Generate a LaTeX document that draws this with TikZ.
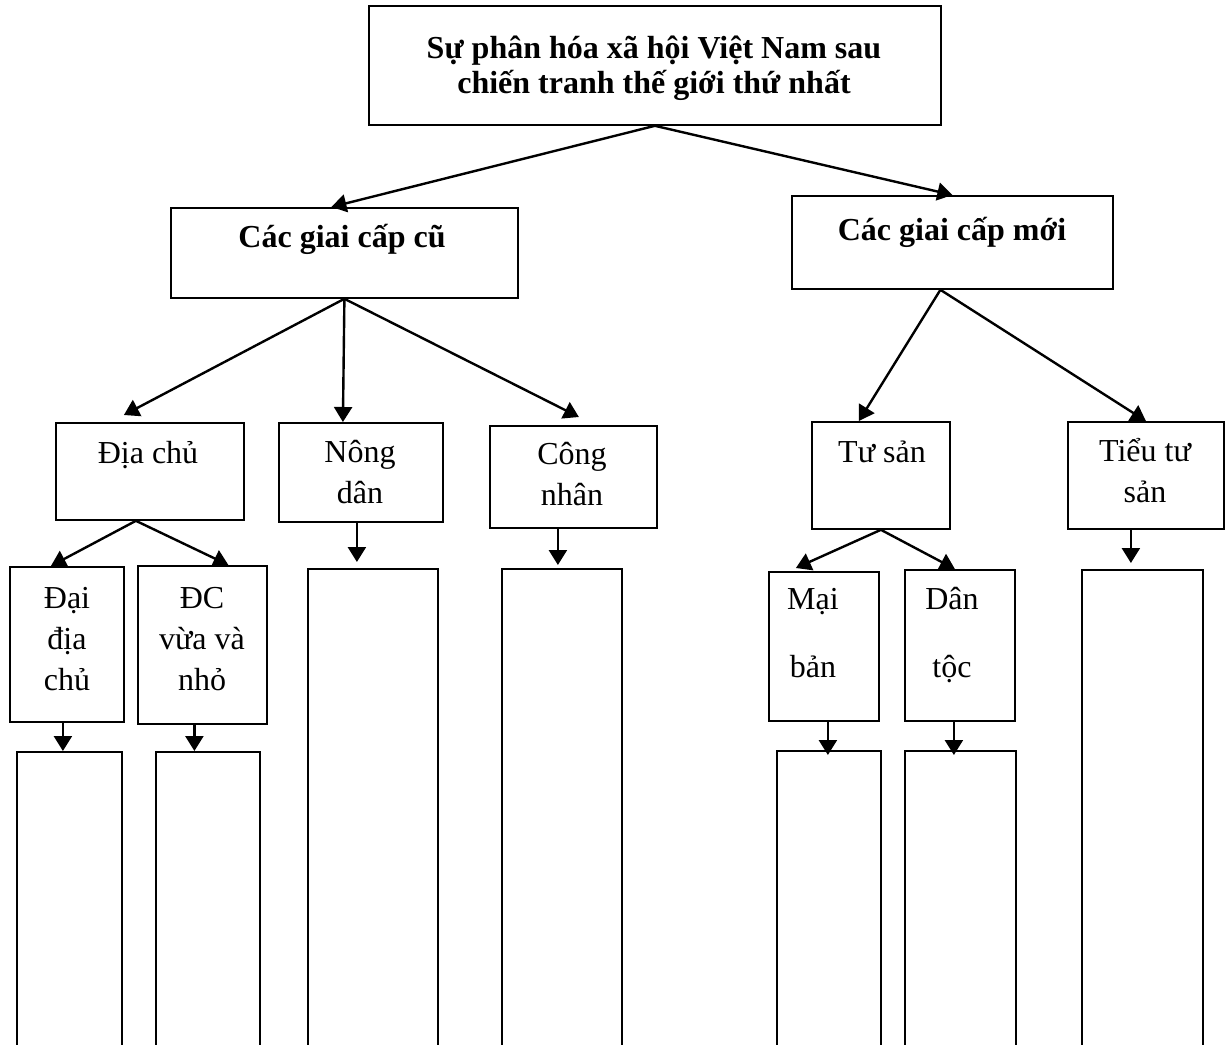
\documentclass[tikz,border=0pt]{standalone}
\usepackage{fontspec}
\setmainfont{Liberation Serif}
\usetikzlibrary{positioning, arrows.meta}

\begin{document}
\begin{tikzpicture}[x=0.5pt, y=-0.5pt, line width=1.2pt, >={Triangle[length=7.5pt, width=9pt]}]
    % Define block styles
    \tikzstyle{box} = [rectangle, draw, line width=0.9pt, inner sep=0pt, anchor=north west]
    \tikzstyle{lbl} = [anchor=base, align=center, inner sep=0pt, font=\fontsize{16}{20.5}\selectfont]
    \tikzstyle{head} = [lbl, font=\fontsize{16}{17.5}\selectfont\bfseries]

    \useasboundingbox (0,0) rectangle (1226,1044);

    % Place boxes
    \node [box, minimum width=286pt, minimum height=59.5pt] (root) at (368,5) {};
    \node [box, minimum width=173.5pt, minimum height=45pt] (cu) at (170,207) {};
    \node [box, minimum width=160.5pt, minimum height=46.5pt] (moi) at (791,195) {};
    \node [box, minimum width=94pt, minimum height=48.5pt] (diachu) at (55,422) {};
    \node [box, minimum width=82pt, minimum height=49.5pt] (nongdan) at (278,422) {};
    \node [box, minimum width=83.5pt, minimum height=51pt] (congnhan) at (489,425) {};
    \node [box, minimum width=69pt, minimum height=53.5pt] (tusan) at (811,421) {};
    \node [box, minimum width=78pt, minimum height=53.5pt] (tieutusan) at (1067,421) {};
    \node [box, minimum width=57pt, minimum height=77.5pt] (daidiachu) at (9,566) {};
    \node [box, minimum width=64.5pt, minimum height=79pt] (dcvuanho) at (137,565) {};
    \node [box, minimum width=55pt, minimum height=74.5pt] (maiban) at (768,571) {};
    \node [box, minimum width=55pt, minimum height=75.5pt] (dantoc) at (904,569) {};

    % Empty boxes running off the page
    \node [box, minimum width=52.5pt, minimum height=154.5pt] (daidiachu-e) at (16,751) {};
    \node [box, minimum width=52pt, minimum height=154.5pt] (dcvuanho-e) at (155,751) {};
    \node [box, minimum width=65pt, minimum height=246pt] (nongdan-e) at (307,568) {};
    \node [box, minimum width=60pt, minimum height=246pt] (congnhan-e) at (501,568) {};
    \node [box, minimum width=52pt, minimum height=155pt] (maiban-e) at (776,750) {};
    \node [box, minimum width=55.5pt, minimum height=155pt] (dantoc-e) at (904,750) {};
    \node [box, minimum width=60.5pt, minimum height=245.5pt] (tieutusan-e) at (1081,569) {};

    % Texts (anchored on the baseline of the last line)
    \node [head] (root-t) at (654,93) {Sự phân hóa xã hội Việt Nam sau\\chiến tranh thế giới thứ nhất};
    \node [head] (cu-t) at (342,247) {Các giai cấp cũ};
    \node [head] (moi-t) at (952,240) {Các giai cấp mới};
    \node [lbl] (diachu-t) at (148,463) {Địa chủ};
    \node [lbl] (nongdan-t) at (360,503) {Nông\\dân};
    \node [lbl] (congnhan-t) at (572,505) {Công\\nhân};
    \node [lbl] (tusan-t) at (882,462) {Tư sản};
    \node [lbl] (tieutusan-t) at (1145,502) {Tiểu tư\\sản};
    \node [lbl] (daidiachu-t) at (67,690) {Đại\\địa\\chủ};
    \node [lbl] (dcvuanho-t) at (202,690) {ĐC\\vừa và\\nhỏ};
    \node [lbl] (maiban-t) at (813,677) {Mại\\[13.5pt]bản};
    \node [lbl] (dantoc-t) at (952,677) {Dân\\[13.5pt]tộc};

    % Draw connections as arrows
    \draw [->] (root.south) -- ([xshift=-6.5pt]cu.north);
    \draw [->] (root.south) -- (moi.north);
    \draw [->] (cu.south) -- ([xshift=-13pt, yshift=3.5pt]diachu.north);
    \draw [->] (cu.south) -- ([xshift=-9pt]nongdan.north);
    \draw [->] (cu.south) -- ([xshift=2.75pt, yshift=4pt]congnhan.north);
    \draw [->] ([xshift=-6pt]moi.south) -- ([xshift=-11pt]tusan.north);
    \draw [->] ([xshift=-6pt]moi.south) -- (tieutusan.north);
    \draw [->] ([xshift=-7pt]diachu.south) -- ([xshift=-8pt]daidiachu.north);
    \draw [->] ([xshift=-7pt]diachu.south) -- ([xshift=13pt]dcvuanho.north);
    \draw [->] (tusan.south) -- ([xshift=-14pt, yshift=1.5pt]maiban.north);
    \draw [->] (tusan.south) -- ([xshift=-2.5pt]dantoc.north);

    % Straight down arrows
    \draw [->] ([xshift=-2pt]daidiachu.south) -- ([xshift=-2pt]daidiachu.south |- daidiachu-e.north);
    \draw [->] ([xshift=-4pt]dcvuanho.south) -- ([xshift=-4pt]dcvuanho.south |- dcvuanho-e.north);
    \draw [->] ([xshift=-2pt]nongdan.south) -- ([xshift=-2pt, yshift=3pt]nongdan.south |- nongdan-e.north);
    \draw [->] ([xshift=-7.75pt]congnhan.south) -- ([xshift=-7.75pt, yshift=1.5pt]congnhan.south |- congnhan-e.north);
    \draw [->] ([xshift=-7.5pt]tieutusan.south) -- ([xshift=-7.5pt, yshift=3pt]tieutusan.south |- tieutusan-e.north);
    \draw [->] ([xshift=2pt]maiban.south) -- ([xshift=2pt, yshift=-2.5pt]maiban.south |- maiban-e.north);
    \draw [->] ([xshift=-3pt]dantoc.south) -- ([xshift=-3pt, yshift=-2.5pt]dantoc.south |- dantoc-e.north);
\end{tikzpicture}
\end{document}
